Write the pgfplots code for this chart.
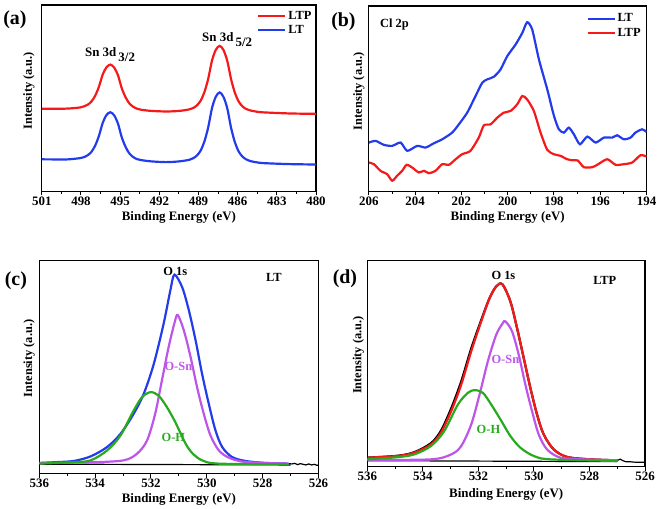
\documentclass[border=0pt]{standalone}
\usepackage{fontspec}
\setmainfont{Liberation Serif}
\usepackage{pgfplots}
\pgfplotsset{compat=1.18}
\definecolor{cblue}{RGB}{35,60,235}
\definecolor{cred}{RGB}{245,25,25}
\definecolor{cviolet}{RGB}{190,85,235}
\definecolor{cgreen}{RGB}{40,170,30}
\pgfplotsset{
  xps/.style={
    scale only axis,
    x dir=reverse,
    axis line style={line width=1.2bp},
    tick align=outside,
    xtick pos=left,
    ytick=\empty,
    major tick length=4bp, minor tick length=2.5bp,
    every tick/.style={black, line width=1bp},
    minor x tick num=1,
    /pgf/number format/assume math mode=true,
    ticklabel style={font=\bfseries\fontsize{13}{13}\selectfont},
    xticklabel style={inner sep=1.5bp},
    xlabel={Binding Energy (eV)},
    ylabel={Intensity (a.u.)},
    xlabel style={font=\bfseries\fontsize{13}{13}\selectfont, at={(axis description cs:0.5,0)}, anchor=center, yshift=-26bp},
    ylabel style={font=\bfseries\fontsize{12.5}{12.5}\selectfont, anchor=center},
    every axis plot/.append style={line width=2.2bp, smooth},
    legend style={draw=none, fill=none, font=\bfseries\fontsize{12.5}{13}\selectfont, row sep=1bp, inner sep=1bp, anchor=north east},
    legend image code/.code={\draw[#1, line width=2.2bp] (0bp,0bp) -- (27bp,0bp);},
    legend cell align=left,
  }
}
\begin{document}
\begin{tikzpicture}[x=1bp,y=1bp]
\path (0,0) rectangle (661,509);
% ---------------- (a)
\begin{axis}[xps, at={(40bp,317bp)}, anchor=south west, width=275bp, height=187bp,
  xmin=480, xmax=501, ymin=0, ymax=187, xtick={480,483,...,501},
  ylabel style={at={(axis description cs:-0.047,0.54)}},
  legend style={at={(rel axis cs:0.995,0.985)}}]
\addplot[cred] coordinates {(501,83.0) (500,82.9) (499.25,83.0) (498.67,83.4) (498.08,84.2) (497.79,85.2) (497.5,86.9) (497.21,90.0) (496.92,95.8) (496.63,104.8) (496.33,117.5) (496.04,124.6) (495.75,127.2) (495.46,124.2) (495.17,116.7) (494.88,103.6) (494.58,94.3) (494.29,88.2) (494.0,84.9) (493.71,83.0) (493.42,82.0) (492.83,81.0) (492.25,80.5) (491.5,80.2) (490.88,80.4) (490.3,81.0) (489.71,82.3) (489.42,83.6) (489.13,86.2) (488.84,90.9) (488.55,99.5) (488.26,112.8) (487.96,131.5) (487.67,142.1) (487.38,146.0) (487.09,141.9) (486.8,131.1) (486.5,112.3) (486.21,98.8) (485.92,90.1) (485.63,85.3) (485.34,82.6) (485.05,81.3) (484.46,79.8) (483.88,79.2) (482,78.2) (480,77.8)};
\addlegendentry{LTP}
\addplot[cblue] coordinates {(501,32.2) (500,32.1) (499.25,32.0) (498.67,32.5) (498.08,33.4) (497.79,34.3) (497.5,36.2) (497.21,39.5) (496.92,45.8) (496.63,55.5) (496.33,69.0) (496.04,76.7) (495.75,79.4) (495.46,76.3) (495.17,68.2) (494.88,54.4) (494.58,44.5) (494.29,38.0) (494.0,34.5) (493.71,32.4) (493.42,31.5) (492.83,30.4) (492.25,29.8) (491.5,29.4) (490.88,29.7) (490.3,30.4) (489.71,31.7) (489.42,33.2) (489.13,35.9) (488.84,40.9) (488.55,50.0) (488.26,64.1) (487.96,83.9) (487.67,95.1) (487.38,99.3) (487.09,94.9) (486.8,83.5) (486.5,63.5) (486.21,49.2) (485.92,40.0) (485.63,34.9) (485.34,32.1) (485.05,30.5) (484.46,29.0) (483.88,28.3) (482,27.4) (480,27.0)};
\addlegendentry{LT}
\node[anchor=base west, inner sep=0pt, font=\bfseries\fontsize{13}{13}\selectfont] at (axis cs:497.7,135.3) {Sn 3d\,\raisebox{-5bp}{3/2}};
\node[anchor=base west, inner sep=0pt, font=\bfseries\fontsize{13}{13}\selectfont] at (axis cs:488.73,150.3) {Sn 3d\,\raisebox{-5bp}{5/2}};
\end{axis}
% ---------------- (b)
\begin{axis}[xps, at={(368bp,317bp)}, anchor=south west, width=278.5bp, height=186bp,
  xmin=194, xmax=206, ymin=0, ymax=186, xtick={194,196,...,206},
  ylabel style={at={(axis description cs:-0.036,0.54)}},
  every axis plot/.append style={tension=0.4},
  legend style={at={(rel axis cs:0.99,0.975)}}]
\addplot[cblue] coordinates {(206.00,49) (205.71,50.7) (205.35,46.7) (204.99,45.7) (204.63,49) (204.34,40.7) (203.91,45.7) (203.55,44) (203.19,48.3) (202.83,52.3) (202.40,59) (202.11,67.3) (201.75,79) (201.39,95.7) (201.10,109) (200.89,112.3) (200.60,115) (200.31,122.3) (200.02,135.7) (199.66,147.3) (199.37,159) (199.16,169.7) (198.94,162.3) (198.65,132.3) (198.29,102.3) (198.00,75.7) (197.79,62.3) (197.57,59) (197.36,64) (197.14,57.3) (196.88,47.3) (196.56,55) (196.20,49) (195.84,54) (195.48,54) (195.27,56.3) (194.98,52.3) (194.69,54) (194.48,59) (194.19,62.3) (194.00,59.7)};
\addlegendentry{LT}
\addplot[cred] coordinates {(206.00,29) (205.78,27.3) (205.50,20.7) (205.21,17.3) (204.99,10.7) (204.78,15.7) (204.56,20.7) (204.37,26.7) (204.13,24) (203.84,19) (203.62,20.7) (203.41,18.3) (203.12,20.7) (202.83,27.3) (202.54,26.7) (202.25,32.3) (201.97,37.3) (201.61,40.7) (201.25,54) (201.03,66.3) (200.74,67.3) (200.45,74) (200.17,79) (199.88,80.7) (199.59,87.3) (199.37,95.7) (199.16,92.3) (198.87,80.7) (198.58,59) (198.29,41.7) (198.00,37.3) (197.72,35.7) (197.43,32.3) (197.21,31.3) (196.97,31) (196.71,24.3) (196.35,24.3) (196.13,26.7) (195.70,32.3) (195.34,26.7) (194.98,27.3) (194.62,29) (194.26,36.3) (194.00,35)};
\addlegendentry{LTP}
\node[anchor=west, font=\bfseries\fontsize{12.5}{13}\selectfont] at (rel axis cs:0.028,0.898) {Cl 2p};
\end{axis}
% ---------------- (c)
\begin{axis}[xps, at={(37.5bp,34bp)}, anchor=south west, width=280bp, height=214bp,
  xmin=526, xmax=536, ymin=0, ymax=214, xtick={526,528,...,536},
  ylabel style={at={(axis description cs:-0.036,0.54)}}]
\addplot[black, line width=1.2bp, sharp plot] coordinates {(536,9.5) (527,8.7)};
\addplot[black, line width=1.2bp, sharp plot] coordinates {(527.07,10) (526.95,9.7) (526.85,10.3) (526.75,9.0) (526.65,10) (526.55,9.3) (526.45,8.7) (526.35,9.7) (526.25,8.7) (526.15,9.3) (526.05,8.3) (526.0,8.7)};
\addplot[cblue] coordinates {(536.0,10.7) (535.4,11.5) (534.76,12.7) (534.16,17.3) (533.57,26.7) (533.09,40) (532.62,60) (532.26,80) (531.90,110) (531.55,150) (531.31,183.3) (531.16,199.5) (530.88,186.7) (530.64,163.3) (530.40,133.3) (530.17,100) (529.93,70) (529.69,43.3) (529.45,26.7) (529.10,16.7) (528.62,12.7) (527.91,10.7) (527.07,10)};
\addplot[cviolet] coordinates {(536.0,10.7) (534.16,11.3) (532.98,13.3) (532.50,20) (532.14,33.3) (531.85,60) (531.61,93.3) (531.37,126.7) (531.15,152) (531.04,159) (530.82,143.3) (530.58,116.7) (530.35,86.7) (530.11,60) (529.87,38.3) (529.57,23.3) (529.21,16) (528.62,11.7) (527.07,10)};
\addplot[cgreen] coordinates {(536.0,10) (534.76,11.5) (534.16,13.3) (533.57,23.3) (533.09,38.3) (532.62,63.3) (532.32,76.7) (532.02,81.7) (531.73,78.3) (531.43,66.7) (531.13,51.7) (531.0,44) (530.76,30) (530.52,20.5) (530.17,13.3) (529.57,10) (527.07,9.3)};
\node[font=\bfseries\fontsize{12.5}{13}\selectfont] at (axis cs:531.13,203) {O 1s};
\node[font=\bfseries\fontsize{12.5}{13}\selectfont] at (axis cs:527.6,197) {LT};
\node[font=\bfseries\fontsize{12.5}{13}\selectfont, text=cviolet] at (axis cs:531.02,107) {O-Sn};
\node[font=\bfseries\fontsize{12.5}{13}\selectfont, text=cgreen] at (axis cs:531.2,36) {O-H};
\end{axis}
% ---------------- (d)
\begin{axis}[xps, at={(366.5bp,41bp)}, anchor=south west, width=278.5bp, height=207bp,
  xmin=526, xmax=536, ymin=-1, ymax=206, xtick={526,528,...,536},
  xlabel style={yshift=-2bp},
  ylabel style={at={(axis description cs:-0.032,0.54)}}]
\addplot[black, line width=1.2bp, sharp plot] coordinates {(536,5) (527,4)};
\addplot[black, line width=1.2bp, sharp plot] coordinates {(527.0,5.3) (526.95,5.8) (526.9,6.5) (526.8,5.0) (526.7,4.0) (526.5,3.8) (526.3,3.3) (526.1,3.5) (526.0,3.3)};
\addplot[black] coordinates {(536,8) (534.91,9.9) (534.31,13.5) (533.71,22.5) (533.35,35) (532.98,57.5) (532.62,84.5) (532.26,117.5) (531.90,146) (531.60,168) (531.36,179.7) (531.14,182) (530.85,164.7) (530.61,138) (530.37,108) (530.13,78) (529.89,51.3) (529.65,31.3) (529.29,16.3) (528.81,8.7) (527.97,6.3) (527.00,5.3)};
\addplot[cred] coordinates {(535.99,8) (534.91,9.7) (534.31,13) (533.71,21.3) (533.35,33) (532.98,54.7) (532.62,81.3) (532.26,114.7) (531.90,144.7) (531.60,168) (531.36,179.7) (531.14,182) (530.85,164.7) (530.61,138) (530.37,108) (530.13,78) (529.89,51.3) (529.65,31.3) (529.29,16.3) (528.81,8.7) (527.97,6.3) (527.00,5.3)};
\addplot[cviolet] coordinates {(536,5.7) (533.71,6.3) (532.98,11.3) (532.62,19.7) (532.26,41.3) (531.96,71.3) (531.66,104.7) (531.36,131.3) (531.12,143) (531.03,144.7) (530.79,134.7) (530.55,111.3) (530.31,81.3) (530.07,54.7) (529.83,31.3) (529.53,16.3) (529.05,8) (528.21,6.3) (527.0,5.3)};
\addplot[cgreen] coordinates {(536,6.3) (534.91,8.5) (534.31,11.3) (533.71,19.7) (533.23,34.7) (532.74,61.3) (532.38,73) (532.14,75.7) (531.84,73) (531.54,61.3) (531.20,46) (530.85,29.7) (530.49,18) (530.01,9.7) (529.41,6.3) (527.0,4.7)};
\node[font=\bfseries\fontsize{12.5}{13}\selectfont] at (axis cs:531.1,191) {O 1s};
\node[font=\bfseries\fontsize{12.5}{13}\selectfont] at (axis cs:527.45,186) {LTP};
\node[font=\bfseries\fontsize{12.5}{13}\selectfont, text=cviolet] at (axis cs:531.03,106) {O-Sn};
\node[font=\bfseries\fontsize{12.5}{13}\selectfont, text=cgreen] at (axis cs:531.64,36) {O-H};
\end{axis}
% panel labels
\node[font=\bfseries\fontsize{20}{20}\selectfont] at (13,489) {(a)};
\node[font=\bfseries\fontsize{20}{20}\selectfont] at (342.5,487.3) {(b)};
\node[font=\bfseries\fontsize{20}{20}\selectfont] at (14,227.3) {(c)};
\node[font=\bfseries\fontsize{20}{20}\selectfont] at (344,229) {(d)};
\end{tikzpicture}
\end{document}
